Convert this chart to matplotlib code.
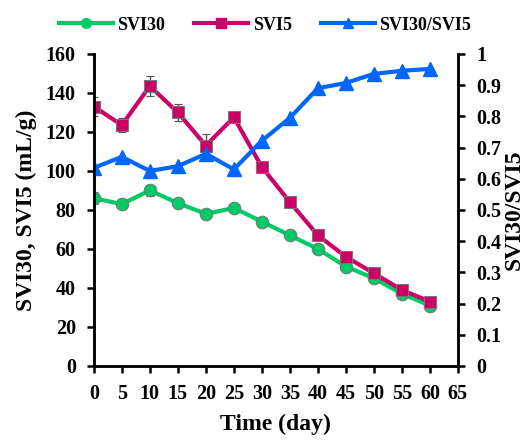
import matplotlib.pyplot as plt

plt.rcParams['font.family'] = ['Liberation Serif', 'DejaVu Serif']
plt.rcParams['font.weight'] = 'bold'

dias = [0, 5, 10, 15, 20, 25, 30, 35, 40, 45, 50, 55, 60]
svi30 = [86, 83, 90, 83.5, 78, 81, 74, 67, 60, 51, 45, 37, 31]
svi30_err = [3, 2.5, 3, 2, 2, 2, 2, 1.5, 1.5, 1.5, 1.5, 1.5, 1.5]
svi5 = [133, 123.5, 143.5, 130, 113, 127.5, 102, 84, 67, 56, 47.5, 39, 33]
svi5_err = [5, 3.5, 5, 4.5, 6, 2.5, 1.5, 1.5, 1.5, 1.5, 1.5, 1.5, 1.5]
ratio = [0.635, 0.67, 0.625, 0.64, 0.68, 0.63, 0.722, 0.795, 0.89, 0.907, 0.936, 0.946, 0.952]

verde = '#00CC66'
rosa = '#CC0066'
azul = '#0066FF'

fig = plt.figure(figsize=(5.3, 4.42), dpi=100)
ax = fig.add_axes([0.177, 0.172, 0.687, 0.706])
ax2 = ax.twinx()

e1 = ax.errorbar(dias, svi30, yerr=svi30_err, color=verde, linewidth=3, marker='o',
                 markersize=9, markeredgecolor='#777777', markeredgewidth=0.8,
                 ecolor='#555555', elinewidth=1, capsize=3)
e2 = ax.errorbar(dias, svi5, yerr=svi5_err, color=rosa, linewidth=3, marker='s',
                 markersize=9, markeredgecolor='#777777', markeredgewidth=0.8,
                 ecolor='#555555', elinewidth=1, capsize=3)
l3, = ax2.plot(dias, ratio, color=azul, linewidth=3, marker='^', markersize=10,
               markeredgecolor=azul)

ax.set_xlim(0, 65)
ax.set_ylim(0, 160)
ax2.set_ylim(0, 1)
ax.set_xticks(range(0, 66, 5))
ax.set_yticks(range(0, 161, 20))
ax2.set_yticks([i / 10 for i in range(11)])
ax2.set_yticklabels(['0', '0.1', '0.2', '0.3', '0.4', '0.5', '0.6', '0.7', '0.8', '0.9', '1'])

for a in (ax, ax2):
    a.spines['top'].set_visible(False)
    for s in a.spines.values():
        s.set_linewidth(1.8)
    a.tick_params(direction='out', width=1.8, length=5, labelsize=14.5, pad=8)
    for t in a.get_xticklabels() + a.get_yticklabels():
        t.set_fontweight('bold')

ax.set_ylabel('SVI30, SVI5 (mL/g)', fontsize=17, fontweight='bold', labelpad=6)
ax2.set_ylabel('SVI30/SVI5', fontsize=17, fontweight='bold', labelpad=2)
ax.set_xlabel('Time (day)', fontsize=17, fontweight='bold', labelpad=7)

# leyenda sin barras de error
h1 = plt.Line2D([], [], color=verde, linewidth=3, marker='o', markersize=7)
h2 = plt.Line2D([], [], color=rosa, linewidth=3, marker='s', markersize=7)
h3 = plt.Line2D([], [], color=azul, linewidth=3, marker='^', markersize=7)
fig.legend([h1, h2, h3], ['SVI30', 'SVI5', 'SVI30/SVI5'], loc='center',
           bbox_to_anchor=(0.5, 0.943), ncol=3, frameon=False,
           prop={'weight': 'bold', 'size': 13}, handlelength=3, columnspacing=1.6,
           handletextpad=0.25)

plt.savefig('out.png', dpi=100)
